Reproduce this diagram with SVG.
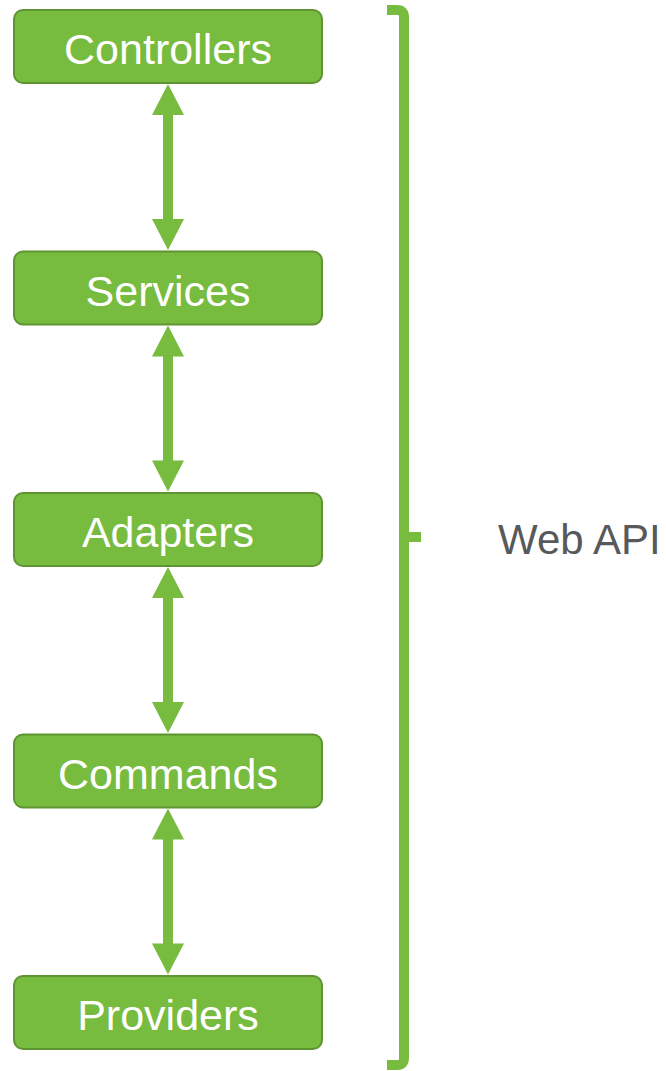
<svg xmlns="http://www.w3.org/2000/svg" width="666" height="1071" viewBox="0 0 666 1071">
<style>
.box{fill:#77bb3f;stroke:#5e9431;stroke-width:2}
.lbl{font-family:"Liberation Sans",Arial,sans-serif;font-size:43px;fill:#ffffff;text-anchor:middle}
.arr{fill:#77bb3f}
.br{fill:none;stroke:#77bb3f;stroke-width:10}
</style>
<defs>
<path id="dbl" class="arr" d="M168,0 L184,31 L173,31 L173,135 L184,135 L168,166 L152,135 L163,135 L163,31 L152,31 Z"/>
</defs>
<g id="connectors">
<use href="#dbl" transform="translate(0,84)"/>
<use href="#dbl" transform="translate(0,325.5)"/>
<use href="#dbl" transform="translate(0,567)"/>
<use href="#dbl" transform="translate(0,808.5)"/>
</g>
<g id="controllers"><rect class="box" x="14" y="10" width="308" height="73" rx="9"/><text class="lbl" x="168" y="64">Controllers</text></g>
<g id="services"><rect class="box" x="14" y="251.5" width="308" height="73" rx="9"/><text class="lbl" x="168" y="305.5">Services</text></g>
<g id="adapters"><rect class="box" x="14" y="493" width="308" height="73" rx="9"/><text class="lbl" x="168" y="547">Adapters</text></g>
<g id="commands"><rect class="box" x="14" y="734.5" width="308" height="73" rx="9"/><text class="lbl" x="168" y="788.5">Commands</text></g>
<g id="providers"><rect class="box" x="14" y="976" width="308" height="73" rx="9"/><text class="lbl" x="168" y="1030">Providers</text></g>
<g id="bracket">
<path class="br" d="M387,10 L397,10 Q404,10 404,17 L404,1058 Q404,1065 397,1065 L387,1065"/>
<path class="br" d="M404,537 L421,537"/>
<text x="498" y="554" style="font-family:'Liberation Sans',Arial,sans-serif;font-size:42px;fill:#58595b">Web API</text>
</g>
</svg>
